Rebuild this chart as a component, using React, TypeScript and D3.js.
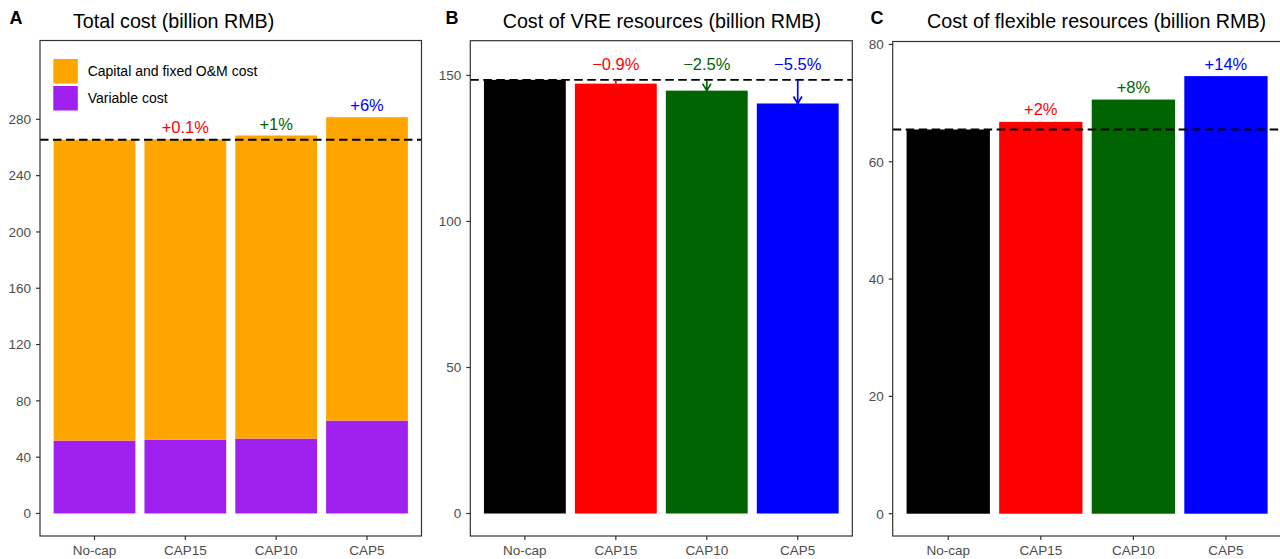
import React from "react";
import * as d3 from "d3";

// Scenarios shown on every panel
const categories = ["No-cap", "CAP15", "CAP10", "CAP5"];

// Panel A: total cost split into two components (billion RMB)
const capitalCost = [213.7, 213.3, 215.3, 215.5];
const variableCost = [51.8, 52.5, 53.2, 66.0];
const totalChange = ["", "+0.1%", "+1%", "+6%"];
const totalTicks = [0, 40, 80, 120, 160, 200, 240, 280];

// Panel B: cost of VRE resources (billion RMB)
const vreCost = [148.5, 147.2, 144.8, 140.4];
const vreChange = ["", "\u22120.9%", "\u22122.5%", "\u22125.5%"];
const vreTicks = [0, 50, 100, 150];

// Panel C: cost of flexible resources (billion RMB)
const flexCost = [65.5, 66.8, 70.6, 74.6];
const flexChange = ["", "+2%", "+8%", "+14%"];
const flexTicks = [0, 20, 40, 60, 80];

const legendLabels = ["Capital and fixed O&M cost", "Variable cost"];

const COLORS = {
  capital: "#FFA500",
  variable: "#A020F0",
  scenario: ["#000000", "#FF0000", "#006400", "#0000FF"],
  axis: "#333333",
  tickText: "#4D4D4D",
};

const FONT = "'Liberation Sans', Arial, Helvetica, sans-serif";

type Box = { x0: number; x1: number; y0: number; y1: number };

function Frame({
  box,
  y,
  ticks,
  x,
}: {
  box: Box;
  y: d3.ScaleLinear<number, number>;
  ticks: number[];
  x: d3.ScaleBand<string>;
}) {
  return (
    <g>
      <rect
        x={box.x0}
        y={box.y0}
        width={box.x1 - box.x0}
        height={box.y1 - box.y0}
        fill="none"
        stroke={COLORS.axis}
        strokeWidth={1.2}
      />
      {ticks.map((t) => (
        <g key={t}>
          <line x1={box.x0 - 4} x2={box.x0} y1={y(t)} y2={y(t)} stroke={COLORS.axis} strokeWidth={1.2} />
          <text
            x={box.x0 - 9}
            y={y(t) + 4.8}
            textAnchor="end"
            fontSize={13.5}
            fill={COLORS.tickText}
            fontFamily={FONT}
          >
            {t}
          </text>
        </g>
      ))}
      {categories.map((c) => {
        const cx = (x(c) as number) + x.bandwidth() / 2;
        return (
          <g key={c}>
            <line x1={cx} x2={cx} y1={box.y1} y2={box.y1 + 4} stroke={COLORS.axis} strokeWidth={1.2} />
            <text
              x={cx}
              y={box.y1 + 19}
              textAnchor="middle"
              fontSize={13.5}
              fill={COLORS.tickText}
              fontFamily={FONT}
            >
              {c}
            </text>
          </g>
        );
      })}
    </g>
  );
}

function Heading({ tag, tagX, title, titleX }: { tag: string; tagX: number; title: string; titleX: number }) {
  return (
    <g fontFamily={FONT}>
      <text x={tagX} y={24} fontSize={18} fontWeight="bold" fill="#000">
        {tag}
      </text>
      <text x={titleX} y={27.5} fontSize={19.7} fill="#000">
        {title}
      </text>
    </g>
  );
}

function bandScale(box: Box) {
  return d3
    .scaleBand<string>()
    .domain(categories)
    .range([box.x0, box.x1])
    .paddingInner(0.1)
    .paddingOuter(0.15);
}

function Dashed({ box, yPos }: { box: Box; yPos: number }) {
  return (
    <line
      x1={box.x0}
      x2={box.x1}
      y1={yPos}
      y2={yPos}
      stroke="#000"
      strokeWidth={1.8}
      strokeDasharray="8.5,4.5"
    />
  );
}

function PanelTotal() {
  const box: Box = { x0: 40, x1: 421.5, y0: 40.5, y1: 536 };
  const x = bandScale(box);
  const y = d3.scaleLinear().domain([-16, 336]).range([box.y1, box.y0]);
  const totals = capitalCost.map((c, i) => c + variableCost[i]);
  const stacked = d3.stack<number>().keys(["variable", "capital"]).value((i, key) =>
    key === "variable" ? variableCost[i] : capitalCost[i]
  )(d3.range(categories.length));
  const fills = [COLORS.variable, COLORS.capital];
  return (
    <g>
      <Heading tag="A" tagX={9.5} title="Total cost (billion RMB)" titleX={73} />
      {stacked.map((layer, li) =>
        layer.map((seg, i) => (
          <rect
            key={`${li}-${i}`}
            x={x(categories[i])}
            width={x.bandwidth()}
            y={y(seg[1])}
            height={y(seg[0]) - y(seg[1])}
            fill={fills[li]}
          />
        ))
      )}
      <Dashed box={box} yPos={y(totals[0])} />
      {totalChange.map((lab, i) =>
        lab ? (
          <text
            key={i}
            x={(x(categories[i]) as number) + x.bandwidth() / 2}
            y={y(totals[i]) - 6}
            textAnchor="middle"
            fontSize={16.5}
            fill={COLORS.scenario[i]}
            fontFamily={FONT}
          >
            {lab}
          </text>
        ) : null
      )}
      {/* legend */}
      {legendLabels.map((lab, i) => (
        <g key={lab}>
          <rect x={53.3} y={59 + i * 27} width={24.5} height={24.5} fill={i === 0 ? COLORS.capital : COLORS.variable} />
          <text x={87.7} y={59 + i * 27 + 12.25 + 5} fontSize={14} fill="#000" fontFamily={FONT}>
            {lab}
          </text>
        </g>
      ))}
      <Frame box={box} y={y} ticks={totalTicks} x={x} />
    </g>
  );
}

function Arrow({ xPos, yFrom, yTo, color }: { xPos: number; yFrom: number; yTo: number; color: string }) {
  const len = yTo - yFrom;
  const head = len > 6 ? Math.min(7, len * 0.65) : 0;
  const half = head * 0.6;
  const path = d3.path();
  path.moveTo(xPos - half, yTo - head);
  path.lineTo(xPos, yTo);
  path.lineTo(xPos + half, yTo - head);
  return (
    <g stroke={color} strokeWidth={1.7} fill="none">
      <line x1={xPos} x2={xPos} y1={yFrom} y2={yTo} />
      {head > 0 ? <path d={path.toString()} strokeLinejoin="miter" /> : null}
    </g>
  );
}

function PanelVre() {
  const box: Box = { x0: 470.3, x1: 852.3, y0: 40.7, y1: 536 };
  const x = bandScale(box);
  const y = d3.scaleLinear().domain([-7.7, 161.9]).range([box.y1, box.y0]);
  const labelLevel = 152;
  return (
    <g>
      <Heading tag="B" tagX={445.5} title="Cost of VRE resources (billion RMB)" titleX={502.7} />
      {vreCost.map((v, i) => (
        <rect
          key={i}
          x={x(categories[i])}
          width={x.bandwidth()}
          y={y(v)}
          height={y(0) - y(v)}
          fill={COLORS.scenario[i]}
        />
      ))}
      <Dashed box={box} yPos={y(vreCost[0])} />
      {vreCost.map((v, i) =>
        i > 0 ? (
          <Arrow
            key={i}
            xPos={(x(categories[i]) as number) + x.bandwidth() / 2}
            yFrom={y(vreCost[0])}
            yTo={y(v)}
            color={COLORS.scenario[i]}
          />
        ) : null
      )}
      {vreChange.map((lab, i) =>
        lab ? (
          <text
            key={i}
            x={(x(categories[i]) as number) + x.bandwidth() / 2}
            y={y(labelLevel)}
            textAnchor="middle"
            fontSize={16.5}
            fill={COLORS.scenario[i]}
            fontFamily={FONT}
          >
            {lab}
          </text>
        ) : null
      )}
      <Frame box={box} y={y} ticks={vreTicks} x={x} />
    </g>
  );
}

function PanelFlex() {
  const box: Box = { x0: 892.7, x1: 1281.5, y0: 41.5, y1: 536 };
  const x = bandScale(box);
  const y = d3.scaleLinear().domain([-3.8, 80.5]).range([box.y1, box.y0]);
  return (
    <g>
      <Heading tag="C" tagX={870.5} title="Cost of flexible resources (billion RMB)" titleX={927} />
      {flexCost.map((v, i) => (
        <rect
          key={i}
          x={x(categories[i])}
          width={x.bandwidth()}
          y={y(v)}
          height={y(0) - y(v)}
          fill={COLORS.scenario[i]}
        />
      ))}
      <Dashed box={box} yPos={y(flexCost[0])} />
      {flexChange.map((lab, i) =>
        lab ? (
          <text
            key={i}
            x={(x(categories[i]) as number) + x.bandwidth() / 2}
            y={y(flexCost[i]) - 6.5}
            textAnchor="middle"
            fontSize={16.5}
            fill={COLORS.scenario[i]}
            fontFamily={FONT}
          >
            {lab}
          </text>
        ) : null
      )}
      <Frame box={box} y={y} ticks={flexTicks} x={x} />
    </g>
  );
}

export default function App() {
  return (
    <svg
      width={1280}
      height={559}
      viewBox="0 0 1280 559"
      style={{ position: "absolute", left: 0, top: 0, background: "#fff", display: "block" }}
    >
      <rect x={0} y={0} width={1280} height={559} fill="#fff" />
      <PanelTotal />
      <PanelVre />
      <PanelFlex />
    </svg>
  );
}
